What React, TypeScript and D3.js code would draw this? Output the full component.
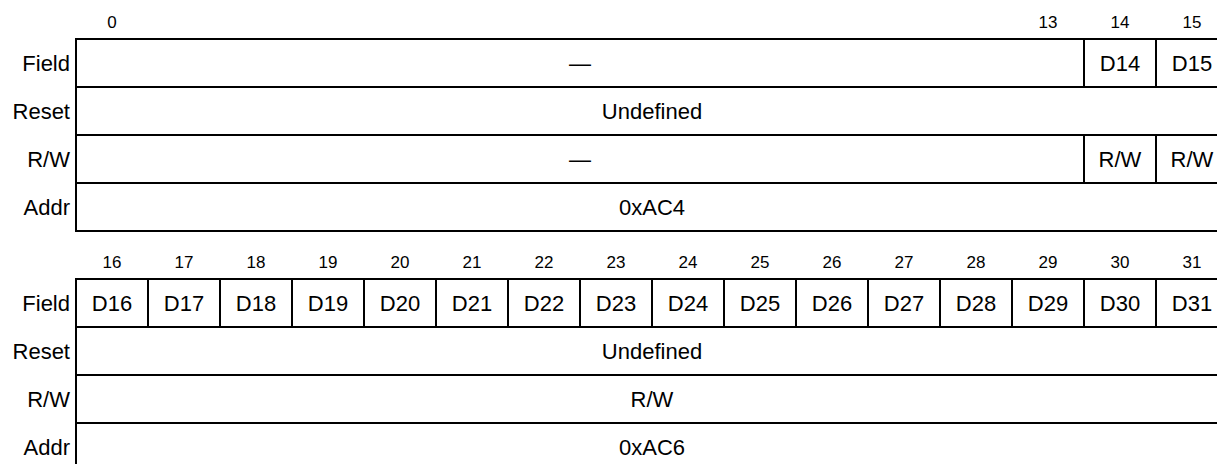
import React from "react";
import * as d3 from "d3";

// ---- data ----
const rowNames = ["Field", "Reset", "R/W", "Addr"];

const block1Bits = [0, 1, 2, 3, 4, 5, 6, 7, 8, 9, 10, 11, 12, 13, 14, 15];
const block1BitLabels = ["0", "13", "14", "15"];
const block1Field = [
  { label: "—", from: 0, to: 13 },
  { label: "D14", from: 14, to: 14 },
  { label: "D15", from: 15, to: 15 },
];
const block1Reset = [{ label: "Undefined", from: 0, to: 15 }];
const block1RW = [
  { label: "—", from: 0, to: 13 },
  { label: "R/W", from: 14, to: 14 },
  { label: "R/W", from: 15, to: 15 },
];
const block1Addr = [{ label: "0xAC4", from: 0, to: 15 }];

const block2Bits = [16, 17, 18, 19, 20, 21, 22, 23, 24, 25, 26, 27, 28, 29, 30, 31];
const block2BitLabels = ["16", "17", "18", "19", "20", "21", "22", "23", "24", "25", "26", "27", "28", "29", "30", "31"];
const block2Field = [
  { label: "D16", from: 16, to: 16 },
  { label: "D17", from: 17, to: 17 },
  { label: "D18", from: 18, to: 18 },
  { label: "D19", from: 19, to: 19 },
  { label: "D20", from: 20, to: 20 },
  { label: "D21", from: 21, to: 21 },
  { label: "D22", from: 22, to: 22 },
  { label: "D23", from: 23, to: 23 },
  { label: "D24", from: 24, to: 24 },
  { label: "D25", from: 25, to: 25 },
  { label: "D26", from: 26, to: 26 },
  { label: "D27", from: 27, to: 27 },
  { label: "D28", from: 28, to: 28 },
  { label: "D29", from: 29, to: 29 },
  { label: "D30", from: 30, to: 30 },
  { label: "D31", from: 31, to: 31 },
];
const block2Reset = [{ label: "Undefined", from: 16, to: 31 }];
const block2RW = [{ label: "R/W", from: 16, to: 31 }];
const block2Addr = [{ label: "0xAC6", from: 16, to: 31 }];

type Cell = { label: string; from: number; to: number };

const blocks = [
  { bits: block1Bits, bitLabels: block1BitLabels, rows: [block1Field, block1Reset, block1RW, block1Addr] },
  { bits: block2Bits, bitLabels: block2BitLabels, rows: [block2Field, block2Reset, block2RW, block2Addr] },
];

// ---- layout ----
const W = 1217;
const H = 464;
const LEFT = 76;
const COLW = 72;
const ROWH = 48;
const BLOCK_TOPS = [39, 279];
const FONT = "'Liberation Sans', Arial, Helvetica, sans-serif";
const MAIN_FS = 22;
const BIT_FS = 17;

function Block({ bits, bitLabels, rows, top }: { bits: number[]; bitLabels: string[]; rows: Cell[][]; top: number }) {
  const x = d3
    .scaleBand<number>()
    .domain(bits)
    .range([LEFT, LEFT + COLW * bits.length])
    .padding(0);
  const y = d3
    .scaleBand<string>()
    .domain(rowNames)
    .range([top, top + ROWH * rowNames.length])
    .padding(0);
  const right = LEFT + COLW * bits.length;
  const bottom = top + ROWH * rowNames.length;
  const bw = x.bandwidth();
  const rh = y.bandwidth();

  return (
    <g>
      {/* bit numbers */}
      {bitLabels.map((b) => (
        <text
          key={"b" + b}
          x={(x(+b) as number) + bw / 2}
          y={top - 10.7}
          textAnchor="middle"
          fontSize={BIT_FS}
          fontFamily={FONT}
          fill="#000"
        >
          {b}
        </text>
      ))}
      {/* row names */}
      {rowNames.map((r) => (
        <text
          key={"r" + r}
          x={LEFT - 6}
          y={(y(r) as number) + rh / 2 + 0.358 * MAIN_FS}
          textAnchor="end"
          fontSize={MAIN_FS}
          fontFamily={FONT}
          fill="#000"
        >
          {r}
        </text>
      ))}
      {/* outer box */}
      <rect x={LEFT} y={top} width={right - LEFT} height={bottom - top} fill="none" stroke="#000" strokeWidth={2} />
      {/* row separators */}
      {rowNames.slice(1).map((r) => (
        <line key={"s" + r} x1={LEFT} x2={right} y1={y(r) as number} y2={y(r) as number} stroke="#000" strokeWidth={2} />
      ))}
      {/* cells */}
      {rows.map((cells, ri) => {
        const ry = y(rowNames[ri]) as number;
        return cells.map((c, ci) => {
          const x0 = x(c.from) as number;
          const x1 = (x(c.to) as number) + bw;
          return (
            <g key={"c" + ri + "-" + ci}>
              {ci > 0 && <line x1={x0} x2={x0} y1={ry} y2={ry + rh} stroke="#000" strokeWidth={2} />}
              <text
                x={(x0 + x1) / 2}
                y={ry + rh / 2 + 0.358 * MAIN_FS}
                textAnchor="middle"
                fontSize={MAIN_FS}
                fontFamily={FONT}
                fill="#000"
              >
                {c.label}
              </text>
            </g>
          );
        });
      })}
    </g>
  );
}

export default function App() {
  return (
    <svg
      width={W}
      height={H}
      viewBox={`0 0 ${W} ${H}`}
      style={{ position: "absolute", left: 0, top: 0, background: "#fff" }}
    >
      <rect x={0} y={0} width={W} height={H} fill="#fff" />
      {blocks.map((b, i) => (
        <Block key={i} bits={b.bits} bitLabels={b.bitLabels} rows={b.rows} top={BLOCK_TOPS[i]} />
      ))}
    </svg>
  );
}
